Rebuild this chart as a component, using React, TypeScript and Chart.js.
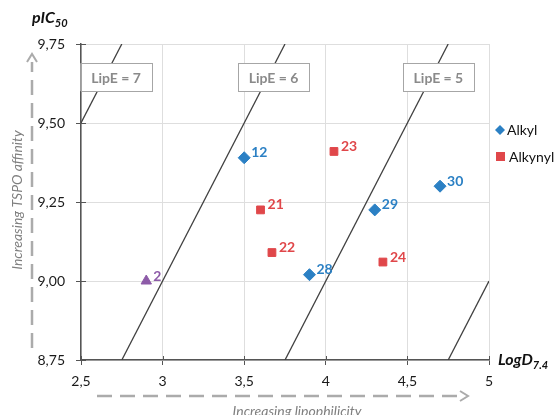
import React, { useEffect, useRef } from "react";
import { Chart, registerables } from "chart.js";
Chart.register(...registerables);

// ---- data ----
const alkylIds = ["12", "28", "29", "30"];
const alkylLogD = [3.5, 3.9, 4.3, 4.7];
const alkylPIC50 = [9.39, 9.02, 9.225, 9.3];

const alkynylIds = ["21", "22", "23", "24"];
const alkynylLogD = [3.6, 3.67, 4.05, 4.35];
const alkynylPIC50 = [9.225, 9.09, 9.41, 9.06];

const refIds = ["2"];
const refLogD = [2.9];
const refPIC50 = [9.0];

const lipeLabels = ["LipE = 7", "LipE = 6", "LipE = 5"];
const lipeLabelLogD = [2.715, 3.68, 4.69];
const lipeLabelPIC50 = [9.645, 9.645, 9.645];

const lipeStartLogD = [2.5, 2.75, 3.75, 4.75];
const lipeStartPIC50 = [9.5, 8.75, 8.75, 8.75];
const lipeEndLogD = [2.75, 3.75, 4.75, 5.0];
const lipeEndPIC50 = [9.75, 9.75, 9.75, 9.0];

const xTickLabels = ["2,5", "3", "3,5", "4", "4,5", "5"];
const yTickLabels = ["8,75", "9,00", "9,25", "9,50", "9,75"];

const legendNames = ["Alkyl", "Alkynyl"];

const BLUE = "#2b80c4";
const RED = "#e0474a";
const PURPLE = "#8d5ba8";
const FONT = "Lato, 'Open Sans', sans-serif";

const overlay = {
  id: "overlay",
  afterDatasetsDraw(chart: any) {
    const ctx = chart.ctx;
    const xs = chart.scales.x;
    const ys = chart.scales.y;
    const ca = chart.chartArea;
    ctx.save();

    // inner tick halves
    ctx.strokeStyle = "#555";
    ctx.lineWidth = 1;
    xs.ticks.forEach((t: any) => {
      const px = Math.round(xs.getPixelForValue(t.value)) + 0.5;
      ctx.beginPath();
      ctx.moveTo(px, ca.bottom);
      ctx.lineTo(px, ca.bottom - 4);
      ctx.stroke();
    });
    ys.ticks.forEach((t: any) => {
      const py = Math.round(ys.getPixelForValue(t.value)) + 0.5;
      ctx.beginPath();
      ctx.moveTo(ca.left, py);
      ctx.lineTo(ca.left + 5, py);
      ctx.stroke();
    });

    // point labels
    ctx.font = `bold 14px ${FONT}`;
    ctx.textAlign = "left";
    ctx.textBaseline = "middle";
    const groups = [
      { idx: 0, ids: alkylIds, color: BLUE },
      { idx: 1, ids: alkynylIds, color: RED },
      { idx: 2, ids: refIds, color: PURPLE },
    ];
    groups.forEach((g) => {
      const meta = chart.getDatasetMeta(g.idx);
      meta.data.forEach((el: any, i: number) => {
        ctx.fillStyle = g.color;
        ctx.fillText(g.ids[i], el.x + 7, el.y - 5);
      });
    });

    // LipE boxes
    ctx.font = `bold 14px ${FONT}`;
    ctx.textAlign = "center";
    lipeLabels.forEach((lab, i) => {
      const cx = xs.getPixelForValue(lipeLabelLogD[i]);
      const cy = ys.getPixelForValue(lipeLabelPIC50[i]);
      const w = 71;
      const h = 28;
      ctx.fillStyle = "#fff";
      ctx.fillRect(cx - w / 2, cy - h / 2, w, h);
      ctx.strokeStyle = "#a6a6a6";
      ctx.lineWidth = 1;
      ctx.strokeRect(Math.round(cx - w / 2) + 0.5, Math.round(cy - h / 2) + 0.5, w, h);
      ctx.fillStyle = "#8a8a8a";
      ctx.fillText(lab, cx, cy + 1);
    });

    // legend
    ctx.textAlign = "left";
    ctx.font = `14px ${FONT}`;
    const lx = 496;
    const ly0 = 130;
    ctx.fillStyle = BLUE;
    ctx.beginPath();
    ctx.moveTo(lx + 4, ly0 - 5);
    ctx.lineTo(lx + 9, ly0);
    ctx.lineTo(lx + 4, ly0 + 5);
    ctx.lineTo(lx - 1, ly0);
    ctx.closePath();
    ctx.fill();
    ctx.fillStyle = "#111";
    ctx.fillText(legendNames[0], lx + 11, ly0);
    const ly1 = 157;
    ctx.fillStyle = RED;
    ctx.fillRect(lx, ly1 - 5, 9, 9);
    ctx.fillStyle = "#111";
    ctx.fillText(legendNames[1], lx + 13, ly1);

    // axis titles
    ctx.fillStyle = "#111";
    ctx.font = `italic bold 16px ${FONT}`;
    ctx.textBaseline = "alphabetic";
    ctx.fillText("pIC", 32, 23);
    let w1 = ctx.measureText("pIC").width;
    ctx.font = `italic bold 11px ${FONT}`;
    ctx.fillText("50", 32 + w1, 27);

    ctx.font = `italic bold 16px ${FONT}`;
    ctx.fillText("LogD", 498, 365);
    w1 = ctx.measureText("LogD").width;
    ctx.font = `italic bold 11px ${FONT}`;
    ctx.fillText("7.4", 498 + w1, 369);

    // dashed arrows
    ctx.strokeStyle = "#ababab";
    ctx.fillStyle = "#ababab";
    ctx.lineWidth = 2.5;
    ctx.setLineDash([15, 8]);
    ctx.beginPath();
    ctx.moveTo(32, 348);
    ctx.lineTo(32, 62);
    ctx.stroke();
    ctx.beginPath();
    ctx.moveTo(97, 396);
    ctx.lineTo(462, 396);
    ctx.stroke();
    ctx.setLineDash([]);
    ctx.lineWidth = 2;
    ctx.beginPath();
    ctx.moveTo(27, 62);
    ctx.lineTo(32, 54);
    ctx.lineTo(37, 62);
    ctx.stroke();
    ctx.beginPath();
    ctx.moveTo(460, 391);
    ctx.lineTo(468, 396);
    ctx.lineTo(460, 401);
    ctx.stroke();

    ctx.fillStyle = "#7f7f7f";
    ctx.font = `italic 14px ${FONT}`;
    ctx.textAlign = "center";
    ctx.textBaseline = "middle";
    ctx.fillText("Increasing lipophilicity", 297, 411);
    ctx.save();
    ctx.translate(17, 200);
    ctx.rotate(-Math.PI / 2);
    ctx.fillText("Increasing TSPO affinity", 0, 0);
    ctx.restore();

    ctx.restore();
  },
};

export default function App() {
  const ref = useRef<HTMLCanvasElement | null>(null);
  useEffect(() => {
    if (!ref.current) return;
    Chart.defaults.font.family = FONT;
    const lineSets = lipeStartLogD.map((_, i) => ({
      type: "line" as const,
      label: "lipe" + i,
      data: [
        { x: lipeStartLogD[i], y: lipeStartPIC50[i] },
        { x: lipeEndLogD[i], y: lipeEndPIC50[i] },
      ],
      borderColor: "#404040",
      borderWidth: 1.3,
      pointRadius: 0,
      showLine: true,
      fill: false,
    }));
    const chart = new Chart(ref.current, {
      type: "scatter",
      data: {
        datasets: [
          {
            label: legendNames[0],
            data: alkylLogD.map((x, i) => ({ x, y: alkylPIC50[i] })),
            pointStyle: "rectRot",
            pointRadius: 6,
            backgroundColor: BLUE,
            borderColor: BLUE,
          },
          {
            label: legendNames[1],
            data: alkynylLogD.map((x, i) => ({ x, y: alkynylPIC50[i] })),
            pointStyle: "rect",
            pointRadius: 5.5,
            backgroundColor: RED,
            borderColor: RED,
          },
          {
            label: "ref",
            data: refLogD.map((x, i) => ({ x, y: refPIC50[i] })),
            pointStyle: "triangle",
            pointRadius: 6,
            backgroundColor: PURPLE,
            borderColor: PURPLE,
          },
          ...lineSets,
        ] as any,
      },
      options: {
        animation: false,
        responsive: false,
        layout: { padding: { left: 0, top: 44, right: 71, bottom: 25 } },
        plugins: { legend: { display: false }, tooltip: { enabled: false } },
        scales: {
          x: {
            type: "linear",
            min: 2.5,
            max: 5,
            afterFit: (s: any) => {
              s.height = 30;
            },
            ticks: {
              stepSize: 0.5,
              padding: 8,
              color: "#1a1a1a",
              font: { size: 14 },
              callback: (_v: any, i: number) => xTickLabels[i],
            },
            grid: { color: "#dedede", tickColor: "#555", tickLength: 5 },
            border: { color: "#555", width: 1.5 },
          },
          y: {
            type: "linear",
            min: 8.75,
            max: 9.75,
            afterFit: (s: any) => {
              s.width = 81;
            },
            ticks: {
              stepSize: 0.25,
              padding: 11,
              color: "#1a1a1a",
              font: { size: 14 },
              callback: (_v: any, i: number) => yTickLabels[i],
            },
            grid: { color: "#dedede", tickColor: "#555", tickLength: 5 },
            border: { color: "#555", width: 1.5 },
          },
        },
      },
      plugins: [overlay],
    });
    return () => chart.destroy();
  }, []);
  return (
    <div style={{ position: "fixed", left: 0, top: 0, width: 560, height: 415, background: "#fff" }}>
      <canvas ref={ref} width={560} height={415} style={{ width: 560, height: 415 }} />
    </div>
  );
}
